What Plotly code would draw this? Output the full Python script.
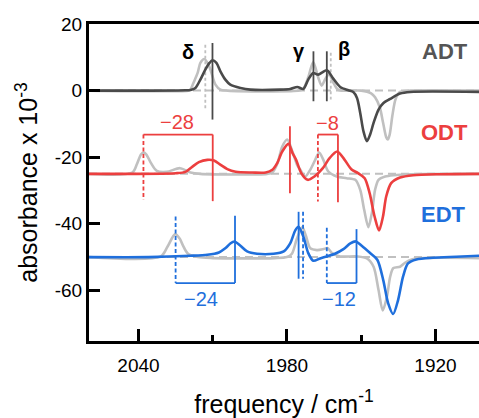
import plotly.graph_objects as go

# ---------------- data ----------------
# ADT (baseline 0)
adt_freq = [2060, 2035, 2021, 2019, 2017, 2015, 2013, 2011.3, 2010.1, 2008.5, 2006.9, 2004.9, 2002.9,
            1998.8, 1994.8, 1982.7, 1978.7, 1975.8, 1973.4, 1971.4, 1969.4, 1967.4, 1965.7, 1964.1,
            1963.3, 1961.3, 1958.5, 1955.2, 1953.2, 1951.7, 1950.4, 1949.1, 1947.7, 1946.4, 1945.0,
            1943.0, 1941.0, 1938.3, 1934.3, 1930.2, 1902]
adt_abs = [0, 0, 0.1, 0.2, 0.8, 3.3, 6.3, 8.3, 9.1, 8.3, 5.8, 3.3, 1.8,
           0.8, 0.3, 0.3, 0.5, 1.1, 0.5, 3.3, 5.3, 4.8, 5.5, 6.1,
           5.8, 3.6, 1.1, 0.1, -0.4, -2.2, -6.7, -12.2, -15.2, -13.2, -9.7,
           -5.7, -3.7, -2.5, -0.9, -0.4, -0.4]
adt_ref_freq = [2060, 2020, 2019.0, 2017.8, 2016.1, 2015.0, 2013.4, 2011.7, 2010.1, 2008.9, 2006.9, 2004,
                1975, 1973.4, 1971.4, 1969.4, 1967.4, 1966.0, 1964.5, 1963.0, 1961.3, 1959.7, 1958,
                1950, 1946, 1944.4, 1942.5, 1941.2, 1939.9, 1939.3, 1938.5, 1937.4, 1936.1, 1934.3,
                1930, 1902]
adt_ref_abs = [0, 0, 0.3, 2.3, 5.3, 8.3, 9.5, 7.8, 4.3, 1.8, 0.3, 0,
               0, 0.5, 4.0, 8.6, 4.0, 1.5, 3.5, 5.0, 2.5, 0.5, 0,
               0, -0.8, -2.0, -5.0, -9.5, -14.0, -14.7, -13.2, -7.5, -2.5, -0.4,
               0, 0]

# ODT (baseline -25)
odt_freq = [2060, 2025, 2021, 2018.3, 2015.6, 2012.2, 2009.5, 2006.8, 2004.1, 2000.7, 1994, 1988.6,
            1985.9, 1983.9, 1981.9, 1979.4, 1977.8, 1976.3, 1974.2, 1971.6, 1968.9, 1965.5, 1962.8,
            1959.7, 1956.7, 1954.0, 1951.3, 1948.6, 1946.6, 1944.6, 1942.8, 1941.2, 1939.9, 1937.9,
            1934.3, 1929.0, 1918.1, 1902]
odt_abs = [-25, -24.8, -24.4, -22.9, -21.5, -20.8, -21.0, -22.3, -23.6, -24.4, -24.6, -24.6,
           -23.8, -21.7, -18.3, -16.0, -18.7, -20.8, -24.8, -26.8, -25.8, -23.3, -20.3,
           -18.3, -20.8, -23.6, -24.8, -26.3, -30.8, -37.8, -42.0, -37.8, -31.8, -27.8,
           -26.1, -25.4, -25.1, -25]
odt_ref_freq = [2060, 2042.5, 2040.6, 2039, 2037.9, 2036.8, 2035, 2032.6, 2028.6, 2023.2, 2019, 2015,
                1988, 1985.9, 1983.9, 1981.9, 1979.9, 1977.8, 1975.8, 1974.6, 1972.6, 1970.6, 1968.6,
                1967.0, 1965.3, 1963.3, 1959.9, 1955.9, 1952.4, 1950.4, 1948.8, 1947.1, 1945.7,
                1944.4, 1943.0, 1940.3, 1937.0, 1930, 1902]
odt_ref_abs = [-25, -24.6, -22, -19.2, -18.6, -19.2, -21.7, -24.1, -24.4, -23.3, -24.6, -25,
               -25, -24.6, -22, -16.8, -14.7, -18.3, -22.5, -23.8, -25.8, -23.8, -20.8,
               -18.6, -20.8, -24.3, -25.8, -26.3, -26.8, -29.8, -35.8, -41.0, -36.8,
               -29.8, -26.8, -25.8, -25.4, -25.1, -25]

# EDT (baseline -50)
edt_freq = [2060, 2036, 2019, 2012.2, 2007.5, 2004.8, 2002.9, 2001.2, 1998.8, 1996.1, 1992.1, 1985.4,
            1981.3, 1978.7, 1976.6, 1975.3, 1973.4, 1971.4, 1969.4, 1966.6, 1963.9, 1960.6, 1957.2,
            1954.4, 1952.2, 1949.8, 1946.4, 1943.5, 1941.1, 1939.1, 1937.1, 1935.1, 1933.1, 1931.1,
            1927.7, 1921.0, 1911.6, 1902]
edt_abs = [-50, -50, -49.6, -49.3, -48.6, -47.3, -45.9, -45.3, -46.6, -48.3, -49.0, -49.0,
           -48.3, -45.9, -41.9, -40.9, -43.8, -48.8, -51.1, -50.4, -49.8, -49.0, -47.6,
           -45.9, -45.3, -46.6, -48.8, -50.8, -56.9, -63.9, -67.1, -62.9, -55.9, -51.9,
           -50.7, -50.2, -49.9, -49.6]
edt_ref_freq = [2060, 2031, 2028.3, 2025.2, 2023.3, 2022.1, 2020.1, 2016, 2010, 1985, 1980, 1978,
                1976.0, 1973.8, 1972.4, 1970.6, 1967.9, 1965.2, 1963.6, 1961.8, 1958.5, 1951.7,
                1947.7, 1945.0, 1943.0, 1941.3, 1939.6, 1938.3, 1937, 1934.3, 1932.3, 1929.6,
                1925, 1902]
edt_ref_abs = [-50, -49.8, -46.9, -43.1, -44.5, -46.4, -48.9, -50.0, -50.3, -50.3, -50, -49,
               -44.5, -41.0, -43.5, -47.3, -47.9, -47.6, -47.3, -48.8, -49.8, -49.8,
               -50.4, -52.9, -59.9, -66.0, -61.9, -55.9, -53.3, -52.9, -51.7, -50.7,
               -50.3, -50.3]

baselines = [0, -25, -50]
series_names = ["ADT", "ODT", "EDT"]

# peak markers (frequencies in cm-1)
adt_delta_solid, adt_delta_ref = 2010.1, 2013.0
adt_gamma_solid, adt_beta_solid, adt_beta_ref = 1969.3, 1963.9, 1962.3
odt_delta_ref, odt_delta_solid = 2038, 2010
odt_gamma_solid = 1978.8
odt_beta_ref, odt_beta_solid = 1967.5, 1959.4
edt_delta_ref, edt_delta_solid = 2025, 2001
edt_gamma_solid, edt_gamma_ref = 1975.3, 1973.5
edt_beta_ref, edt_beta_solid = 1963.9, 1951.9

shift_labels = ["\u221228", "\u22128", "\u221224", "\u221212"]

x_tickvals = [2040, 1980, 1920]
y_tickvals = [20, 0, -20, -40, -60]
y_ticktext = ["20", "0", "-20", "-40", "-60"]

# ---------------- styling ----------------
FONT = "Liberation Sans, Arial, Helvetica, sans-serif"
DARK = "#4a4a4a"
REF = "#c0c0c0"
RED = "#ec3f3f"
BLUE = "#1f6fdc"
LW = 2.6

fig = go.Figure()

# dashed baselines
for b in baselines:
    fig.add_trace(go.Scatter(x=[2060, 1900], y=[b, b], mode="lines",
                             line=dict(color=REF, width=2, dash="8px,5px"),
                             hoverinfo="skip", showlegend=False))

def vline(x, y0, y1, color, dash="solid", width=1.8):
    fig.add_trace(go.Scatter(x=[x, x], y=[y0, y1], mode="lines",
                             line=dict(color=color, width=width, dash=dash),
                             hoverinfo="skip", showlegend=False))

def hline(x0, x1, y, color, width=1.8):
    fig.add_trace(go.Scatter(x=[x0, x1], y=[y, y], mode="lines",
                             line=dict(color=color, width=width),
                             hoverinfo="skip", showlegend=False))

# reference (gray) spectra
for fx, fy in [(adt_ref_freq, adt_ref_abs), (odt_ref_freq, odt_ref_abs), (edt_ref_freq, edt_ref_abs)]:
    fig.add_trace(go.Scatter(x=fx, y=fy, mode="lines",
                             line=dict(color=REF, width=LW, shape="spline", smoothing=0.8),
                             hoverinfo="skip", showlegend=False))

DOT = "3px,2.5px"
vline(adt_delta_ref, 13.8, -5.7, REF, dash=DOT)
vline(adt_beta_ref, 11.4, -2.7, REF, dash=DOT)

# coloured spectra
for fx, fy, c in [(adt_freq, adt_abs, DARK), (odt_freq, odt_abs, RED), (edt_freq, edt_abs, BLUE)]:
    fig.add_trace(go.Scatter(x=fx, y=fy, mode="lines",
                             line=dict(color=c, width=LW, shape="spline", smoothing=0.8),
                             hoverinfo="skip", showlegend=False))

# ADT solid markers
vline(adt_delta_solid, 14.3, -8.7, DARK)
vline(adt_gamma_solid, 11.8, -3.2, DARK)
vline(adt_beta_solid, 11.8, -3.2, DARK)

# ODT markers
DASH = "4px,2.5px"
hline(odt_delta_ref, odt_delta_solid, -13.2, RED)
vline(odt_delta_ref, -13.2, -32.8, RED, dash=DASH)
vline(odt_delta_solid, -13.2, -33.2, RED)
vline(odt_gamma_solid, -10.7, -30.8, RED)
hline(odt_beta_ref, odt_beta_solid, -13.2, RED)
vline(odt_beta_ref, -13.2, -33.3, RED, dash=DASH)
vline(odt_beta_solid, -13.2, -33.5, RED)

# EDT markers
hline(edt_delta_ref, edt_delta_solid, -57.8, BLUE)
vline(edt_delta_ref, -37.8, -57.8, BLUE, dash=DASH)
vline(edt_delta_solid, -37.6, -57.8, BLUE)
vline(edt_gamma_solid, -36.4, -56.5, BLUE)
vline(edt_gamma_ref, -36.4, -56.5, BLUE, dash=DASH)
hline(edt_beta_ref, edt_beta_solid, -57.8, BLUE)
vline(edt_beta_ref, -41.2, -57.8, BLUE, dash=DASH)
vline(edt_beta_solid, -41.6, -57.8, BLUE)

annotations = [
    dict(x=2019.8, y=11.7, text="<b>\u03b4</b>", font=dict(size=20, color="black")),
    dict(x=1975.2, y=12.0, text="<b>\u03b3</b>", font=dict(size=20, color="black")),
    dict(x=1956.8, y=12.4, text="<b>\u03b2</b>", font=dict(size=20, color="black")),
    dict(x=1916.2, y=11.8, text="<b>ADT</b>", font=dict(size=22, color="#555555")),
    dict(x=1916.5, y=-12.6, text="<b>ODT</b>", font=dict(size=22, color=RED)),
    dict(x=1916.9, y=-37.3, text="<b>EDT</b>", font=dict(size=22, color=BLUE)),
    dict(x=2024.3, y=-9.3, text=shift_labels[0], font=dict(size=20, color=RED)),
    dict(x=1963.5, y=-9.8, text=shift_labels[1], font=dict(size=20, color=RED)),
    dict(x=2014.9, y=-62.6, text=shift_labels[2], font=dict(size=20, color=BLUE)),
    dict(x=1959.0, y=-62.6, text=shift_labels[3], font=dict(size=20, color=BLUE)),
]
for a in annotations:
    a.update(xref="x", yref="y", showarrow=False, xanchor="center", yanchor="middle")
    a["font"]["family"] = FONT

fig.update_layout(
    width=479, height=418, autosize=False,
    margin=dict(l=89, r=0, t=24, b=77),
    paper_bgcolor="white", plot_bgcolor="white",
    font=dict(family=FONT, color="black"),
    annotations=annotations,
    showlegend=False,
)
fig.update_xaxes(
    range=[2060, 1902.4], showgrid=False, zeroline=False,
    showline=True, linecolor="black", linewidth=3, mirror=True,
    ticks="inside", ticklen=12, tickwidth=3, tickcolor="black",
    tickvals=x_tickvals, ticktext=[str(v) for v in x_tickvals],
    ticklabelstandoff=5,
    tickfont=dict(size=19, family=FONT, color="black"),
    minor=dict(ticks="inside", ticklen=6, tickwidth=3, tickcolor="black", dtick=30, tick0=1980),
    title=dict(text="frequency / cm<sup>-1</sup>", font=dict(size=25, family=FONT, color="black"),
               standoff=22),
)
fig.update_yaxes(
    range=[-75.2, 20], showgrid=False, zeroline=False,
    showline=True, linecolor="black", linewidth=3, mirror=False,
    ticks="inside", ticklen=11, tickwidth=3, tickcolor="black",
    tickvals=y_tickvals, ticktext=y_ticktext,
    tickfont=dict(size=19, family=FONT, color="black"),
    title=dict(text="absorbance x 10<sup>-3</sup>", font=dict(size=25, family=FONT, color="black"),
               standoff=10),
)

fig.write_html("out.html",
               config={"displayModeBar": False},
               post_script="document.body.style.margin='0';document.body.style.padding='0';"
                           "document.body.style.overflow='hidden';")
